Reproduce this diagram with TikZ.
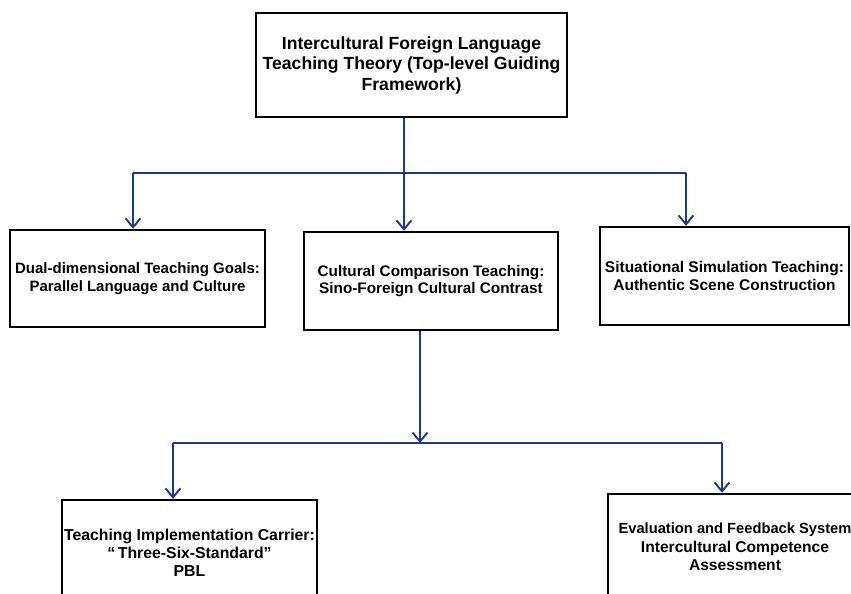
\documentclass[tikz,border=0pt]{standalone}
\usepackage{fontspec}
\setmainfont{Liberation Sans}
\usetikzlibrary{arrows.meta}
\definecolor{linkblue}{RGB}{32,56,140}
\tikzset{
  box/.style={draw=black, line width=2.4pt, fill=white, align=center, font=\bfseries, inner sep=0pt},
  conn/.style={draw=linkblue, line width=1.9pt},
  arr/.style={conn, -{Straight Barb[length=9pt,width=15pt,line width=1.9pt]}}
}
\begin{document}
\begin{tikzpicture}[x=1pt,y=-1pt]
\useasboundingbox[fill=white] (0,0) rectangle (851,594);
\node[box, minimum width=311pt, minimum height=104pt, font=\bfseries\fontsize{17.6}{20.5}\selectfont] (top) at (411.5,65)
  {Intercultural Foreign Language\\Teaching Theory (Top-level Guiding\\Framework)};
\node[box, minimum width=255pt, minimum height=97pt, font=\bfseries\fontsize{15}{17.5}\selectfont] (left) at (137.5,278.5)
  {Dual-dimensional Teaching Goals:\\Parallel Language and Culture};
\node[box, minimum width=254pt, minimum height=98pt, font=\bfseries\fontsize{15.3}{17.5}\selectfont] (mid) at (431,281)
  {Cultural Comparison Teaching:\\Sino-Foreign Cultural Contrast};
\node[box, minimum width=249pt, minimum height=98pt, font=\bfseries\fontsize{15.5}{17.5}\selectfont] (right) at (724.5,276)
  {Situational Simulation Teaching:\\Authentic Scene Construction};
\node[box, minimum width=255pt, minimum height=106pt, font=\bfseries\fontsize{15.8}{18}\selectfont] (bl) at (189.5,553)
  {Teaching Implementation Carrier:\\“\,Three-Six-Standard”\\PBL};
\node[box, minimum width=254pt, minimum height=106pt, font=\bfseries\fontsize{15.6}{18.5}\selectfont] (br) at (735,547)
  {{\fontsize{14.7}{18.5}\selectfont Evaluation and Feedback System}\\Intercultural Competence\\Assessment};
\coordinate (b1) at (404,173);
\coordinate (lA) at (133,173);
\coordinate (rA) at (686,173);
\draw[conn] (top.south -| b1) -- (b1);
\draw[conn] (lA) -- (rA);
\draw[arr] (b1) -- (mid.north -| b1);
\draw[arr] (lA) -- (left.north -| lA);
\draw[arr] (rA) -- (right.north -| rA);
\coordinate (b2) at (420,443);
\coordinate (lB) at (173,443);
\coordinate (rB) at (722,443);
\draw[arr] (mid.south -| b2) -- (b2);
\draw[conn] (lB) -- (rB);
\draw[arr] (lB) -- (bl.north -| lB);
\draw[arr] (rB) -- (br.north -| rB);
\end{tikzpicture}
\end{document}
